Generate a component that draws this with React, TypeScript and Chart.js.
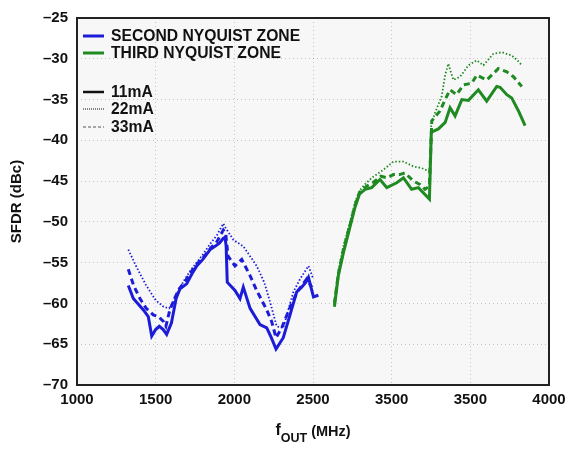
import React, { useEffect, useRef } from "react";
import { Chart, registerables } from "chart.js";

Chart.register(...registerables);

// ---- data ----
const xTickLabels = ["1000", "1500", "2000", "2500", "3500", "3500", "4000"];
const yTickLabels = ["–70", "–65", "–60", "–55", "–50", "–45", "–40", "–35", "–30", "–25"];

const secondFreq11 = [1326, 1358, 1422, 1453, 1475, 1500, 1523, 1548, 1570, 1600, 1630, 1655, 1697, 1730, 1761, 1800, 1846, 1877, 1905, 1930, 1941, 1948, 1955, 2004, 2036, 2057, 2100, 2163, 2206, 2235, 2265, 2311, 2354, 2396, 2428, 2455, 2471, 2503, 2534];
const second11 = [-57.8, -59.4, -60.8, -61.6, -64.0, -63.2, -62.8, -63.2, -63.8, -62.4, -59.4, -58.2, -57.6, -56.4, -55.4, -54.6, -53.4, -53.0, -52.6, -52.0, -51.9, -53.0, -57.4, -58.4, -59.4, -58.0, -60.6, -62.6, -63.0, -64.2, -65.6, -64.2, -61.4, -58.6, -58.0, -57.4, -56.8, -59.2, -59.0];

const secondFreq22 = [1326, 1380, 1440, 1500, 1550, 1585, 1601, 1640, 1680, 1720, 1760, 1800, 1850, 1890, 1930, 1940, 1994, 2057, 2100, 2142, 2190, 2227, 2269, 2311, 2340, 2375, 2418, 2471, 2502];
const second22 = [-53.4, -55.6, -57.8, -59.6, -60.4, -60.6, -60.2, -58.6, -57.2, -56.0, -55.0, -54.0, -52.6, -51.6, -50.2, -50.6, -52.2, -53.0, -54.2, -55.4, -57.4, -59.8, -62.8, -63.0, -61.0, -58.6, -57.0, -55.4, -57.0];

const secondFreq33 = [1326, 1360, 1400, 1440, 1485, 1517, 1549, 1565, 1590, 1620, 1650, 1690, 1730, 1770, 1810, 1850, 1890, 1930, 1945, 1960, 2004, 2047, 2100, 2142, 2206, 2237, 2265, 2301, 2364, 2406, 2460, 2492];
const second33 = [-55.8, -57.8, -59.4, -60.6, -61.4, -61.6, -62.2, -62.8, -60.8, -59.4, -58.2, -57.2, -56.0, -55.0, -54.2, -53.2, -52.4, -51.0, -51.4, -54.2, -55.4, -54.6, -56.6, -58.4, -60.8, -62.2, -64.2, -63.0, -60.0, -58.4, -57.0, -58.0];

const thirdFreq11 = [2636, 2661, 2693, 2735, 2767, 2795, 2831, 2873, 2926, 2969, 3032, 3075, 3127, 3170, 3240, 3252, 3297, 3340, 3371, 3403, 3446, 3488, 3551, 3604, 3668, 3689, 3732, 3763, 3806, 3848];
const third11 = [-60.4, -56.6, -53.8, -50.6, -48.2, -46.6, -46.0, -45.8, -44.8, -45.8, -45.2, -44.6, -46.0, -45.8, -47.2, -39.0, -38.6, -37.8, -36.0, -37.0, -35.0, -35.1, -33.8, -35.2, -33.4, -33.5, -34.4, -34.8, -36.4, -38.2];

const thirdFreq22 = [2636, 2661, 2693, 2735, 2767, 2795, 2830, 2873, 2948, 3011, 3075, 3138, 3190, 3240, 3252, 3276, 3318, 3340, 3360, 3392, 3435, 3488, 3541, 3583, 3646, 3700, 3763, 3800, 3827];
const third22 = [-59.8, -56.0, -53.0, -50.0, -47.6, -46.2, -45.4, -44.6, -43.6, -42.6, -42.6, -43.2, -43.4, -43.8, -38.0, -36.6, -34.6, -32.0, -30.6, -32.6, -32.2, -30.8, -30.2, -30.8, -29.4, -29.2, -29.6, -30.2, -30.8];

const thirdFreq33 = [2636, 2661, 2693, 2735, 2767, 2795, 2842, 2880, 2932, 2970, 3011, 3050, 3085, 3138, 3180, 3212, 3240, 3255, 3307, 3340, 3371, 3413, 3456, 3509, 3541, 3604, 3678, 3732, 3774, 3827];
const third33 = [-60.0, -56.4, -53.4, -50.4, -48.0, -46.4, -45.6, -45.2, -44.4, -44.6, -44.2, -44.2, -44.0, -45.0, -45.4, -46.0, -45.6, -37.6, -36.4, -35.0, -33.8, -34.4, -33.2, -33.0, -32.0, -32.6, -31.2, -31.6, -32.2, -33.4];

const zoneLabels = ["SECOND NYQUIST ZONE", "THIRD NYQUIST ZONE"];
const currentLabels = ["11mA", "22mA", "33mA"];

// ---- styles ----
const BLUE = "#1c1cd8";
const GREEN = "#1f8a22";
const FONT = '"Liberation Sans", Arial, sans-serif';
const SOLID: number[] = [];
const DOTTED = [1.5, 2];
const DASHED = [6, 4];

const pts = (xs: number[], ys: number[]) => xs.map((x, i) => ({ x, y: ys[i] }));

const mk = (label: string, xs: number[], ys: number[], color: string, dash: number[], width: number) => ({
  label,
  data: pts(xs, ys),
  borderColor: color,
  backgroundColor: color,
  borderDash: dash,
  borderWidth: width,
  pointRadius: 0,
  tension: 0,
  fill: false,
});

const decorPlugin = {
  id: "decor",
  beforeDraw(chart: any) {
    const { ctx, chartArea: a } = chart;
    ctx.save();
    ctx.fillStyle = "#f7f7f7";
    ctx.fillRect(a.left, a.top, a.right - a.left, a.bottom - a.top);
    ctx.restore();
  },
  afterDraw(chart: any) {
    const { ctx, chartArea: a } = chart;
    ctx.save();
    // frame
    ctx.strokeStyle = "#222";
    ctx.lineWidth = 2;
    ctx.setLineDash([]);
    ctx.strokeRect(a.left, a.top, a.right - a.left, a.bottom - a.top);

    // legend
    const lx0 = a.left + 6;
    const lx1 = a.left + 27;
    const tx = a.left + 34;
    ctx.font = `bold 15.7px ${FONT}`;
    ctx.textBaseline = "middle";
    ctx.fillStyle = "#111";
    const rows = [
      { y: 36, color: BLUE, dash: SOLID, w: 3, text: zoneLabels[0] },
      { y: 53, color: GREEN, dash: SOLID, w: 3, text: zoneLabels[1] },
      { y: 92, color: "#111", dash: SOLID, w: 2.5, text: currentLabels[0] },
      { y: 109, color: "#111", dash: [1, 1], w: 1, text: currentLabels[1] },
      { y: 127, color: "#555", dash: [3, 2], w: 1, text: currentLabels[2] },
    ];
    rows.forEach((r) => {
      ctx.beginPath();
      ctx.strokeStyle = r.color;
      ctx.lineWidth = r.w;
      ctx.setLineDash(r.dash);
      ctx.moveTo(lx0, r.y);
      ctx.lineTo(lx1, r.y);
      ctx.stroke();
      ctx.fillStyle = "#111";
      ctx.fillText(r.text, tx, r.y + 1);
    });
    ctx.setLineDash([]);

    // x title with subscript
    const cx = (a.left + a.right) / 2;
    const f1 = `bold 16px ${FONT}`;
    const f2 = `bold 12.5px ${FONT}`;
    const f3 = `bold 14.5px ${FONT}`;
    ctx.textBaseline = "alphabetic";
    ctx.font = f1;
    const w1 = ctx.measureText("f").width;
    ctx.font = f2;
    const w2 = ctx.measureText("OUT").width;
    ctx.font = f3;
    const w3 = ctx.measureText(" (MHz)").width;
    let x = cx - (w1 + w2 + w3) / 2;
    ctx.fillStyle = "#111";
    ctx.textAlign = "left";
    ctx.font = f1;
    ctx.fillText("f", x, 435);
    x += w1;
    ctx.font = f2;
    ctx.fillText("OUT", x, 442);
    x += w2;
    ctx.font = f3;
    ctx.fillText(" (MHz)", x, 436);

    // y title
    ctx.save();
    ctx.translate(17, (a.top + a.bottom) / 2);
    ctx.rotate(-Math.PI / 2);
    ctx.textAlign = "center";
    ctx.textBaseline = "middle";
    ctx.font = `bold 15px ${FONT}`;
    ctx.fillText("SFDR (dBc)", 0, 0);
    ctx.restore();

    ctx.restore();
  },
};

export default function App() {
  const ref = useRef<HTMLCanvasElement | null>(null);

  useEffect(() => {
    if (!ref.current) return;
    const chart = new Chart(ref.current, {
      type: "line",
      data: {
        datasets: [
          mk("2nd 11mA", secondFreq11, second11, BLUE, SOLID, 3),
          mk("2nd 22mA", secondFreq22, second22, BLUE, DOTTED, 1.8),
          mk("2nd 33mA", secondFreq33, second33, BLUE, DASHED, 3),
          mk("3rd 11mA", thirdFreq11, third11, GREEN, SOLID, 3),
          mk("3rd 22mA", thirdFreq22, third22, GREEN, DOTTED, 1.8),
          mk("3rd 33mA", thirdFreq33, third33, GREEN, DASHED, 3),
        ],
      },
      options: {
        animation: false,
        responsive: false,
        devicePixelRatio: 1,
        layout: { padding: { top: 10, right: 25, bottom: 0, left: 0 } },
        plugins: {
          legend: { display: false },
          tooltip: { enabled: false },
        },
        scales: {
          x: {
            type: "linear",
            min: 1000,
            max: 4000,
            ticks: {
              stepSize: 500,
              autoSkip: false,
              maxRotation: 0,
              padding: 6,
              color: "#111",
              font: { family: FONT, size: 15, weight: "bold" },
              callback: (_v: any, i: number) => xTickLabels[i],
            },
            grid: { color: "rgba(0,0,0,0.2)", drawTicks: false, lineWidth: 1 },
            border: { display: false, dash: [1, 3] },
            afterFit: (s: any) => {
              s.height = 64;
            },
          },
          y: {
            min: -70,
            max: -25,
            ticks: {
              stepSize: 5,
              autoSkip: false,
              padding: 9,
              color: "#111",
              font: { family: FONT, size: 15, weight: "bold" },
              callback: (_v: any, i: number) => yTickLabels[i],
            },
            grid: { color: "rgba(0,0,0,0.2)", drawTicks: false, lineWidth: 1 },
            border: { display: false, dash: [1, 3] },
            afterFit: (s: any) => {
              s.width = 77;
            },
          },
        },
      } as any,
      plugins: [decorPlugin],
    });
    return () => chart.destroy();
  }, []);

  return (
    <div style={{ position: "absolute", left: 0, top: 0, width: 574, height: 449, background: "#fff" }}>
      <canvas ref={ref} width={574} height={449} />
    </div>
  );
}
